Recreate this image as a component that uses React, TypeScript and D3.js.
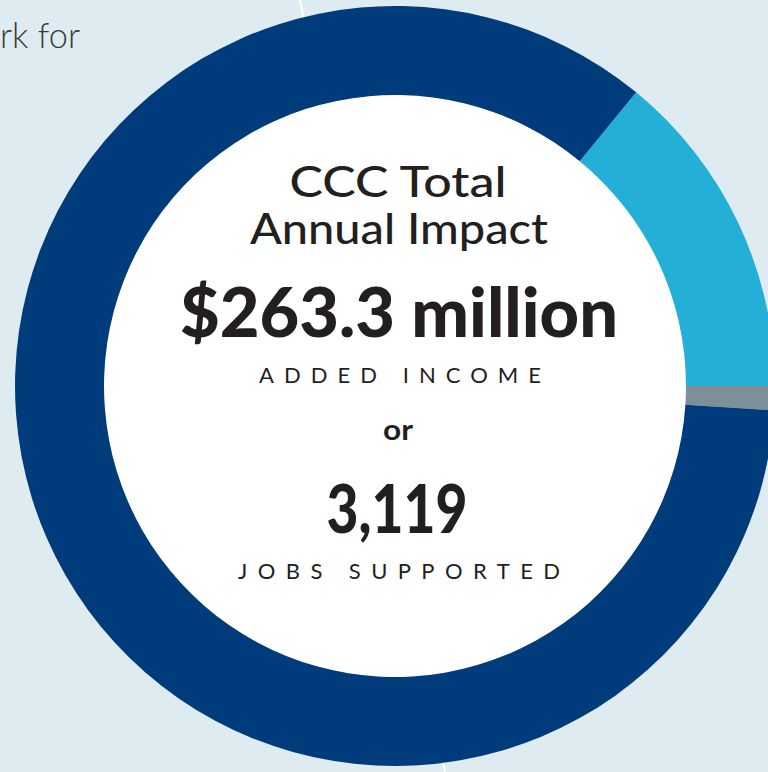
import React, { useEffect, useRef } from 'react';
import * as d3 from 'd3';

// CCC total annual impact, $ millions, in drawing order (clockwise)
const categories = ['Operations spending', 'Student spending', 'Alumni'];
const values = [37.0, 2.7, 223.6];
const colors = ['#23afd6', '#7d8f99', '#003c7b'];

const centerLines = ['CCC Total', 'Annual Impact'];
const incomeValue = '$263.3 million';
const incomeLabel = 'ADDED INCOME';
const jobsValue = '3,119';
const jobsLabel = 'JOBS SUPPORTED';

const W = 768;
const H = 772;

export default function App() {
  const svgRef = useRef<SVGSVGElement>(null);

  useEffect(() => {
    if (!svgRef.current) return;
    const svg = d3.select(svgRef.current);
    svg.selectAll('*').remove();

    const cx = 395;
    const cy = 386;
    const outerR = 380;
    const innerR = 291;
    const start = (39.4 * Math.PI) / 180;

    // background
    svg.append('rect').attr('width', W).attr('height', H).attr('fill', '#deebf0');
    svg.append('line')
      .attr('x1', 300).attr('y1', 0).attr('x2', 445).attr('y2', H)
      .attr('stroke', '#ffffff').attr('stroke-width', 2);

    svg.append('text')
      .attr('x', 0).attr('y', 48)
      .attr('font-family', 'Lato')
      .attr('font-weight', 300)
      .attr('font-size', 35)
      .attr('textLength', 80)
      .attr('lengthAdjust', 'spacingAndGlyphs')
      .attr('fill', '#3a3a3a')
      .text('rk for');

    const pie = d3.pie<number>().sort(null).startAngle(start).endAngle(start + 2 * Math.PI);
    const arc = d3.arc<d3.PieArcDatum<number>>().innerRadius(innerR).outerRadius(outerR);

    const g = svg.append('g').attr('transform', `translate(${cx},${cy})`);
    g.append('circle').attr('r', innerR).attr('fill', '#ffffff');
    g.selectAll('path.slice')
      .data(pie(values))
      .enter()
      .append('path')
      .attr('class', 'slice')
      .attr('d', arc as any)
      .attr('fill', (_d, i) => colors[i])
      .append('title')
      .text((d, i) => `${categories[i]}: $${d.data}M`);

    const font = 'Lato, "Open Sans", sans-serif';
    const ink = '#231f20';

    // centre text: text, x, baseline, size, weight, width, adjust
    const label = (t: string, x: number, y: number, size: number, weight: number, len: number, adjust: string) =>
      g.append('text')
        .attr('x', x - cx).attr('y', y - cy)
        .attr('text-anchor', 'middle')
        .attr('font-family', font)
        .attr('font-weight', weight)
        .attr('font-size', size)
        .attr('textLength', len)
        .attr('lengthAdjust', adjust)
        .attr('fill', ink)
        .text(t);

    label(centerLines[0], 398, 197, 42, 500, 217, 'spacingAndGlyphs');
    label(centerLines[1], 399, 244, 42, 500, 298, 'spacingAndGlyphs');
    label(incomeValue, 399, 337, 69, 900, 438, 'spacingAndGlyphs');
    label(incomeLabel, 400, 383, 22, 400, 282, 'spacing');
    label('or', 398, 440, 29, 700, 30, 'spacingAndGlyphs');
    label(jobsValue, 397, 533, 67, 900, 141, 'spacingAndGlyphs');
    label(jobsLabel, 399, 579, 22, 400, 322, 'spacing');
  }, []);

  return (
    <svg
      ref={svgRef}
      width={W}
      height={H}
      style={{ position: 'absolute', left: 0, top: 0, display: 'block' }}
    />
  );
}
